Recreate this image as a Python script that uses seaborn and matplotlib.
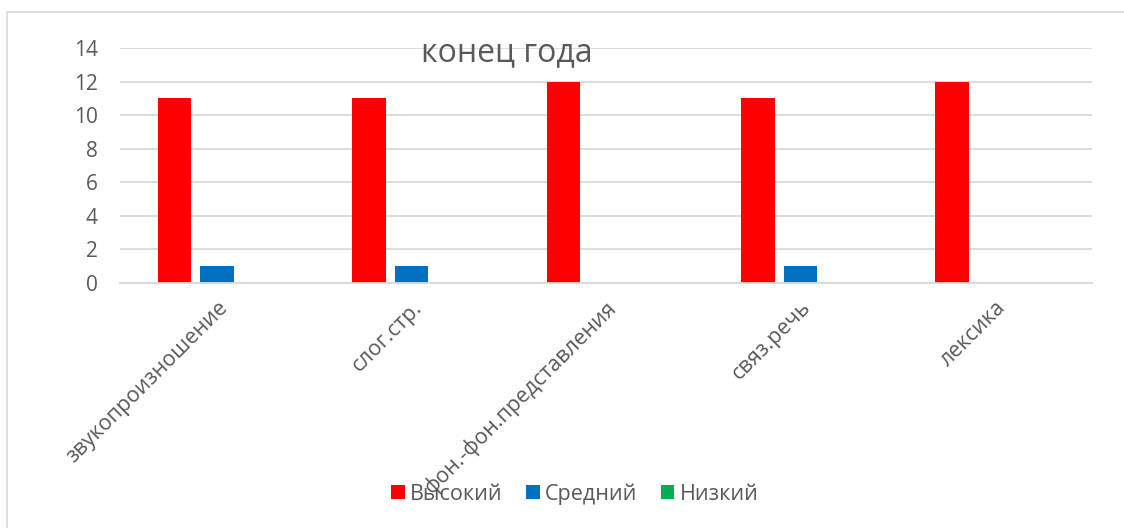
import matplotlib
matplotlib.use("Agg")
import matplotlib.pyplot as plt
import seaborn as sns
import pandas as pd
from matplotlib.patches import Rectangle

categories = ["звукопроизношение", "слог.стр.", "фон.-фон.представления", "связ.речь", "лексика"]
series_names = ["Высокий", "Средний", "Низкий"]
high = [11, 11, 12, 11, 12]
mid = [1, 1, 0, 1, 0]
low = [0, 0, 0, 0, 0]
title_text = "конец года"
yticks = [0, 2, 4, 6, 8, 10, 12, 14]

colors = {"Высокий": "#FF0000", "Средний": "#0070C0", "Низкий": "#00B050"}

rows = []
for name, vals in zip(series_names, [high, mid, low]):
    for c, v in zip(categories, vals):
        rows.append({"cat": c, "series": name, "value": v})
df = pd.DataFrame(rows)

sns.set_theme(style="white")
plt.rcParams["font.family"] = ["Open Sans", "DejaVu Sans"]

fig = plt.figure(figsize=(11.24, 5.28), dpi=100)
ax = fig.add_axes([120 / 1124, 1 - 283 / 528, (1092 - 120) / 1124, (283 - 48) / 528])

sns.barplot(data=df, x="cat", y="value", hue="series", hue_order=series_names,
            order=categories, palette=colors, width=0.657, gap=0.21,
            saturation=1, ax=ax, legend=True, errorbar=None, linewidth=0,
            edgecolor="none")

ax.set_ylim(0, 14)
ax.set_xlim(-0.5, len(categories) - 0.5)
ax.set_yticks(yticks)
ax.set_yticklabels([str(t) for t in yticks], fontsize=15, color="#595959")
ax.yaxis.grid(True, color="#D9D9D9", linewidth=1.3)
ax.set_axisbelow(True)
for s in ["top", "right", "left"]:
    ax.spines[s].set_visible(False)
ax.spines["bottom"].set_color("#D9D9D9")
ax.spines["bottom"].set_linewidth(1.3)
ax.tick_params(axis="both", length=0)
ax.tick_params(axis="y", pad=16)
ax.tick_params(axis="x", pad=10)
ax.set_xlabel("")
ax.set_ylabel("")
ax.set_xticks(range(len(categories)))
ax.set_xticklabels(categories, rotation=45, ha="right", rotation_mode="anchor",
                   fontsize=15.5, color="#595959")

fig.text(507 / 1124, 1 - 53 / 528, title_text, fontsize=23, color="#595959",
         ha="center", va="center")

sns.move_legend(ax, loc="center", bbox_to_anchor=(575 / 1124, 1 - 494 / 528),
                bbox_transform=fig.transFigure, ncol=3, frameon=False, title=None,
                fontsize=15.5, handlelength=0.62, handleheight=0.62,
                handletextpad=0.25, columnspacing=1.1)
for t in ax.get_legend().get_texts():
    t.set_color("#595959")

fig.patches.append(Rectangle((7 / 1124, -0.1), 1.2, 1 - 12 / 528 + 0.1,
                             transform=fig.transFigure, fill=False,
                             edgecolor="#D9D9D9", linewidth=1.2, zorder=-1))

fig.savefig("out.png", dpi=100, facecolor="white")
